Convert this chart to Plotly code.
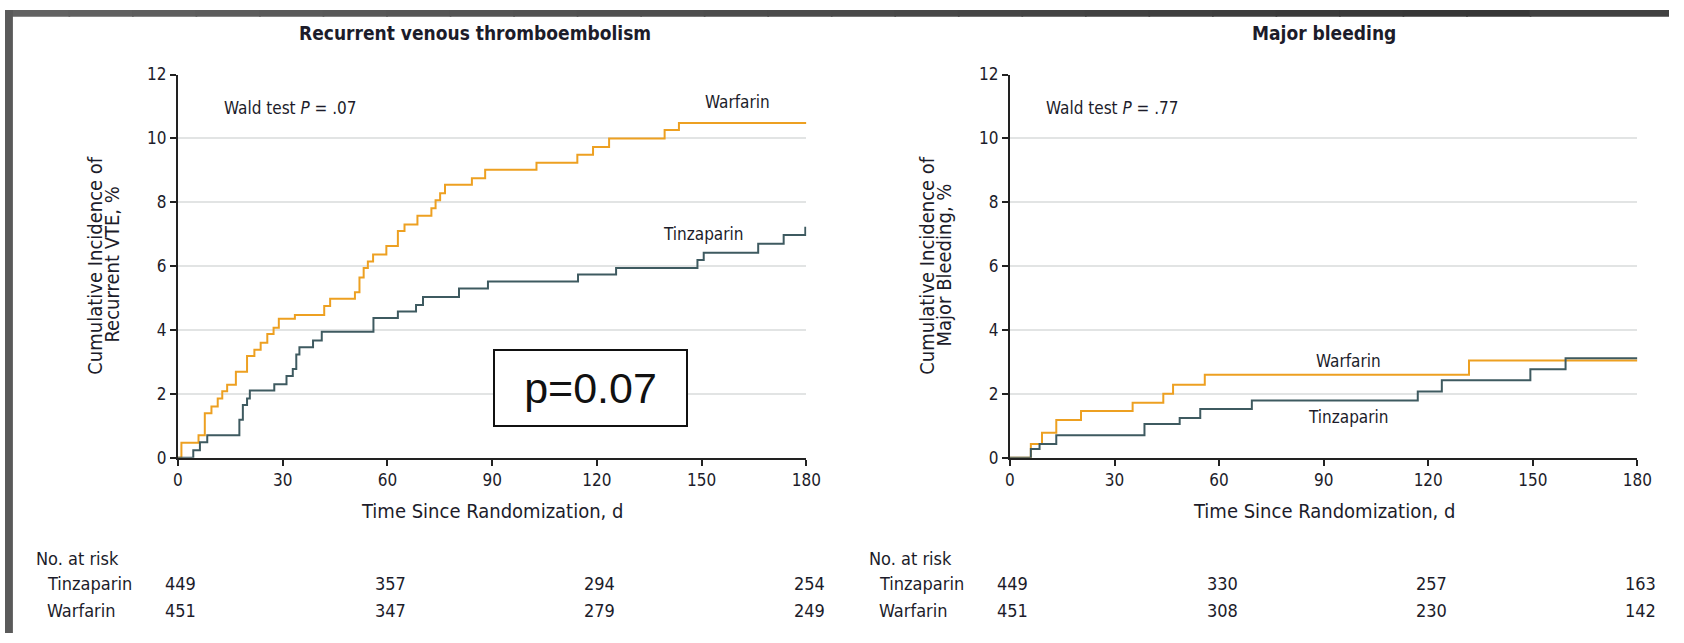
import plotly.graph_objects as go

# ---------------- data ----------------
vte_warf_t = [0, 1, 5.9, 7.7, 9.6, 11.4, 12.7, 14.1, 16.6, 19.8, 21.9, 23.7, 25.6, 27.4, 28.9,
              33.5, 41.9, 43.6, 50.7, 52.0, 53.2, 54.4, 55.9, 59.7, 63.0, 64.9, 68.6, 72.6,
              73.8, 75.1, 76.5, 84.2, 88.0, 102.7, 114.4, 118.9, 123.5, 139.4, 143.5, 180]
vte_warf_y = [0, 0.47, 0.70, 1.39, 1.60, 1.85, 2.08, 2.28, 2.69, 3.18, 3.38, 3.60, 3.87, 4.07, 4.35,
              4.47, 4.75, 4.98, 5.18, 5.64, 5.94, 6.14, 6.36, 6.63, 7.10, 7.30, 7.58, 7.81,
              8.06, 8.28, 8.55, 8.75, 9.02, 9.24, 9.49, 9.73, 10.00, 10.26, 10.48, 10.48]

vte_tinz_t = [0, 4.4, 6.3, 8.4, 17.6, 18.6, 19.8, 20.6, 27.6, 31.1, 32.9, 33.9, 34.8, 38.7, 41.2,
              56.0, 63.0, 68.2, 70.2, 80.5, 88.8, 114.6, 125.5, 148.8, 150.6, 166.2, 173.5, 179.7, 180]
vte_tinz_y = [0, 0.23, 0.48, 0.70, 1.19, 1.65, 1.85, 2.10, 2.30, 2.56, 2.78, 3.23, 3.46, 3.67, 3.94,
              4.37, 4.58, 4.78, 5.03, 5.30, 5.52, 5.74, 5.94, 6.19, 6.42, 6.70, 6.97, 7.20, 7.20]

mb_warf_t = [0, 6.0, 9.2, 13.3, 20.4, 35.2, 44.0, 46.8, 55.9, 131.7, 180]
mb_warf_y = [0, 0.43, 0.78, 1.18, 1.46, 1.72, 2.00, 2.28, 2.60, 3.04, 3.04]

mb_tinz_t = [0, 6.0, 8.5, 13.3, 38.6, 48.7, 54.6, 69.4, 117.0, 123.9, 149.3, 159.4, 180]
mb_tinz_y = [0, 0.27, 0.43, 0.70, 1.05, 1.24, 1.52, 1.79, 2.07, 2.42, 2.77, 3.11, 3.11]

risk_days = [0, 60, 120, 180]
vte_risk_tinz = [449, 357, 294, 254]
vte_risk_warf = [451, 347, 279, 249]
mb_risk_tinz = [449, 330, 257, 163]
mb_risk_warf = [451, 308, 230, 142]

x_ticks = [0, 30, 60, 90, 120, 150, 180]
y_ticks = [0, 2, 4, 6, 8, 10, 12]

panel_titles = ["Recurrent venous thromboembolism", "Major bleeding"]
y_title_lines = [["Cumulative Incidence of", "Recurrent VTE, %"],
                 ["Cumulative Incidence of", "Major Bleeding, %"]]
x_title = "Time Since Randomization, d"
wald = ["Wald test <i>P</i> = .07", "Wald test <i>P</i> = .77"]

# ---------------- style ----------------
W, H = 1684, 643
FONT = "Liberation Sans Narrow, DejaVu Sans Condensed, Arial Narrow, sans-serif"
TXT = "#1c1c2a"
ORANGE = "#EDA021"
TEAL = "#3E5A60"


def px_x(p):
    return p / W


def px_y(p):
    return 1 - p / H


fig = go.Figure()

fig.add_trace(go.Scatter(x=vte_warf_t, y=vte_warf_y, mode="lines", line_shape="hv",
                         line=dict(color=ORANGE, width=2), xaxis="x", yaxis="y", showlegend=False))
fig.add_trace(go.Scatter(x=vte_tinz_t, y=vte_tinz_y, mode="lines", line_shape="hv",
                         line=dict(color=TEAL, width=2), xaxis="x", yaxis="y", showlegend=False))
fig.add_trace(go.Scatter(x=mb_warf_t, y=mb_warf_y, mode="lines", line_shape="hv",
                         line=dict(color=ORANGE, width=2), xaxis="x2", yaxis="y2", showlegend=False))
fig.add_trace(go.Scatter(x=mb_tinz_t, y=mb_tinz_y, mode="lines", line_shape="hv",
                         line=dict(color=TEAL, width=2), xaxis="x2", yaxis="y2", showlegend=False))

ydom = [px_y(462), px_y(66.6)]
xax = dict(range=[0, 180], tickvals=x_ticks, ticks="outside", ticklen=6, tickwidth=1.5,
           tickcolor="#222", showline=True, linecolor="#222", linewidth=2, showgrid=False,
           zeroline=False, tickfont=dict(family=FONT, size=17, color=TXT), fixedrange=True)
yax = dict(range=[0, 12], tickvals=y_ticks, ticks="outside", ticklen=6, tickwidth=1.5,
           tickcolor="#222", showline=True, linecolor="#222", linewidth=2, showgrid=True,
           gridcolor="#e2e4e4", gridwidth=2, zeroline=False,
           tickfont=dict(family=FONT, size=17, color=TXT), fixedrange=True)

fig.update_layout(
    width=W, height=H, margin=dict(l=0, r=0, t=0, b=0),
    paper_bgcolor="white", plot_bgcolor="white",
    xaxis=dict(xax, domain=[px_x(175), px_x(811)], anchor="y"),
    yaxis=dict(yax, domain=ydom, anchor="x"),
    xaxis2=dict(xax, domain=[px_x(1017), px_x(1652)], anchor="y2"),
    yaxis2=dict(yax, domain=ydom, anchor="x2"),
)

# gray frame (top strip with gradient, left strip)
n = 24
x_end = 1543
for i in range(n):
    c = int(0x62 - (0x62 - 0x36) * i / (n - 1))
    fig.add_shape(type="rect", xref="paper", yref="paper",
                  x0=px_x(x_end * i / n), x1=px_x(x_end * (i + 1) / n) + 0.001, y0=px_y(7), y1=1,
                  fillcolor=f"rgb({c},{c},{c})", line_width=0, layer="above")
fig.add_shape(type="rect", xref="paper", yref="paper", x0=px_x(x_end), x1=1, y0=px_y(7), y1=1,
              fillcolor="#414141", line_width=0, layer="above")
fig.add_shape(type="rect", xref="paper", yref="paper", x0=0, x1=px_x(8), y0=0, y1=1,
              fillcolor="#5a5a5a", line_width=0, layer="above")

ann = []
title_x = [476, 1335]
ytitle_x = [[91, 108], [933, 950]]
risk_label_x = [29, 872]
risk_name_x = [40, 882]
axes = [("x", "y"), ("x2", "y2")]
risk_sets = [(vte_risk_tinz, vte_risk_warf), (mb_risk_tinz, mb_risk_warf)]
wald_x = [12.7, 9.9]

for k in range(2):
    xr, yr = axes[k]
    ann.append(dict(text="<b>" + panel_titles[k] + "</b>", xref="paper", yref="paper",
                    x=px_x(title_x[k]), y=px_y(24), xanchor="center", yanchor="middle",
                    showarrow=False, font=dict(family=FONT, size=19, color=TXT)))
    for j in range(2):
        ann.append(dict(text=y_title_lines[k][j], xref="paper", yref="paper",
                        x=px_x(ytitle_x[k][j]), y=px_y(263), xanchor="center", yanchor="middle",
                        textangle=-90, showarrow=False,
                        font=dict(family=FONT, size=20, color=TXT)))
    ann.append(dict(text=x_title, xref=xr, yref="paper", x=90, y=px_y(517),
                    xanchor="center", yanchor="middle",
                    showarrow=False, font=dict(family=FONT, size=20, color=TXT)))
    ann.append(dict(text=wald[k], xref=xr, yref=yr, x=wald_x[k], y=10.95, xanchor="left",
                    yanchor="middle", showarrow=False, font=dict(family=FONT, size=17, color=TXT)))
    ann.append(dict(text="No. at risk", xref="paper", yref="paper", x=px_x(risk_label_x[k]),
                    y=px_y(566), xanchor="left", yanchor="middle", showarrow=False,
                    font=dict(family=FONT, size=18, color=TXT)))
    for name, row_y, vals in [("Tinzaparin", 592, risk_sets[k][0]), ("Warfarin", 620, risk_sets[k][1])]:
        ann.append(dict(text=name, xref="paper", yref="paper", x=px_x(risk_name_x[k]),
                        y=px_y(row_y), xanchor="left", yanchor="middle", showarrow=False,
                        font=dict(family=FONT, size=18, color=TXT)))
        for d, v in zip(risk_days, vals):
            ann.append(dict(text=str(v), xref=xr, yref="paper", x=d, xshift=3, y=px_y(row_y),
                            xanchor="center", yanchor="middle", showarrow=False,
                            font=dict(family=FONT, size=18, color=TXT)))

# curve labels
ann.append(dict(text="Warfarin", xref="x", yref="y", x=160.2, y=11.15, showarrow=False,
                font=dict(family=FONT, size=17, color=TXT)))
ann.append(dict(text="Tinzaparin", xref="x", yref="y", x=150.3, y=7.0, showarrow=False,
                font=dict(family=FONT, size=17, color=TXT)))
ann.append(dict(text="Warfarin", xref="x2", yref="y2", x=97, y=3.03, showarrow=False,
                font=dict(family=FONT, size=17, color=TXT)))
ann.append(dict(text="Tinzaparin", xref="x2", yref="y2", x=97, y=1.27, showarrow=False,
                font=dict(family=FONT, size=17, color=TXT)))

# p-value box
ann.append(dict(text="p=0.07", xref="x", yref="y", x=118.3, y=2.19, showarrow=False,
                width=191, height=74, borderpad=0, bordercolor="#111", borderwidth=2,
                bgcolor="white", font=dict(family="Liberation Sans, Arial, sans-serif", size=43,
                                            color="#111")))

fig.update_layout(annotations=ann)

reset_css = """
var st = document.createElement('style');
st.textContent = 'html,body{margin:0!important;padding:0!important;overflow:hidden!important;}';
document.head.appendChild(st);
"""
fig.write_html("out.html", post_script=reset_css)
